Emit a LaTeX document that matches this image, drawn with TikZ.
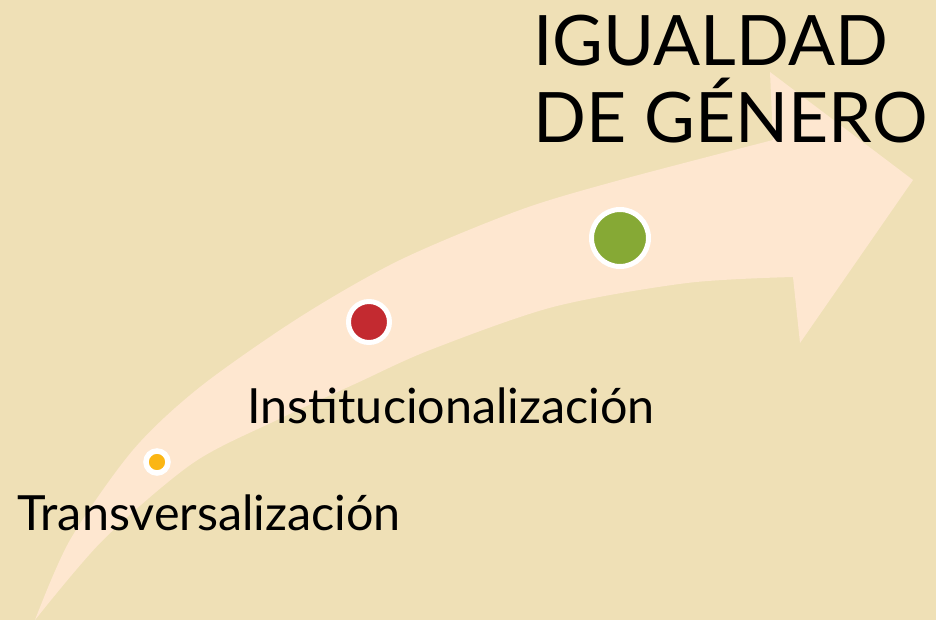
\documentclass[tikz,border=0pt]{standalone}
\usepackage{xcolor}
\usepackage{fontspec}
\setmainfont{Lato}
\usepackage{tikz}
\usetikzlibrary{calc}

\definecolor{bgsand}{HTML}{EFE0B6}
\definecolor{arrowpeach}{HTML}{FEE7D0}
\definecolor{dotyellow}{HTML}{FBB614}
\definecolor{dotred}{HTML}{C32A30}
\definecolor{dotgreen}{HTML}{86A935}

\tikzset{
  stage/.style={circle, draw=white, inner sep=0pt},
  stagelabel/.style={anchor=base west, inner sep=0pt, font=\fontsize{27.6}{33}\selectfont},
  goallabel/.style={anchor=base west, inner sep=0pt, font=\fontsize{39.6}{47}\selectfont}
}

\begin{document}
\begin{tikzpicture}[x=0.2mm, y=-0.2mm]
    \useasboundingbox (0,0) rectangle (936,620);
    % Background
    \fill[bgsand] (0,0) rectangle (936,620);
    % Curved arrow
    \fill[arrowpeach] plot[smooth] coordinates {(35,620) (70,540) (133,450) (200,387) (300,317) (400,260) (520,210) (620,180) (773,140)}
        -- (770,72) -- (913,180) -- (800,343) -- (793,277)
        -- plot[smooth] coordinates {(793,277) (687,283) (553,307) (430,350) (357,383) (277,420) (193,463) (103,540) (35,620)} -- cycle;
    % Stages
    \node[stage, fill=dotyellow, minimum size=4.4mm, line width=1.1mm] (dot1) at (157,462) {};
    \node[stage, fill=dotred, minimum size=8.2mm, line width=1mm] (dot2) at (369,322) {};
    \node[stage, fill=dotgreen, minimum size=11.4mm, line width=1mm] (dot3) at (620,238) {};
    % Labels
    \node[stagelabel] (trans) at (17,530) {Transversalización};
    \node[stagelabel] (inst) at (247,423) {Institucionalización};
    \node[goallabel] (goal1) at (533,65) {IGUALDAD};
    \node[goallabel] (goal2) at (533,142) {DE GÉNERO};
\end{tikzpicture}
\end{document}
